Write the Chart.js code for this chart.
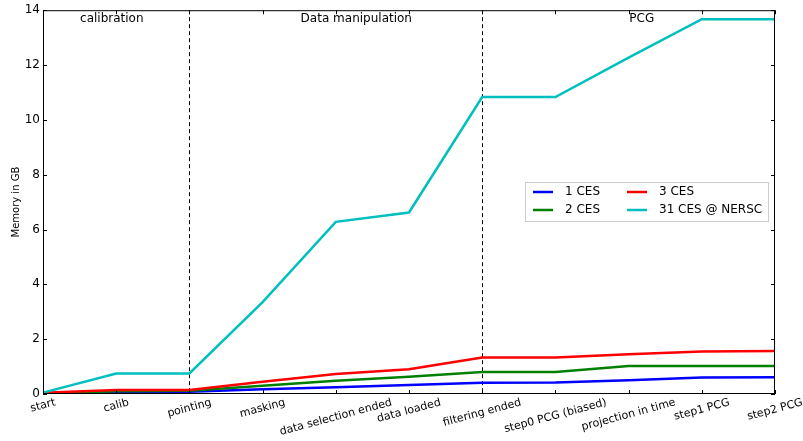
<!DOCTYPE html>
<html>
<head>
<meta charset="utf-8">
<script src="https://cdn.jsdelivr.net/npm/chart.js@4/dist/chart.umd.min.js"></script>
<style>
  html, body { margin: 0; padding: 0; background: #fff; }
  #wrap { width: 803px; height: 441px; }
</style>
</head>
<body>
<div id="wrap"><canvas id="main-chart" width="803" height="441"></canvas></div>
<script>
// steps of the run
const steps = ['start', 'calib', 'pointing', 'masking', 'data selection ended', 'data loaded',
    'filtering ended', 'step0 PCG (biased)', 'projection in time', 'step1 PCG', 'step2 PCG'];

// memory in GB
const ces1 = [0.0, 0.08, 0.08, 0.17, 0.25, 0.33, 0.41, 0.42, 0.5, 0.6, 0.61];
const ces2 = [0.02, 0.1, 0.12, 0.3, 0.48, 0.63, 0.8, 0.8, 1.02, 1.02, 1.02];
const ces3 = [0.05, 0.15, 0.15, 0.45, 0.73, 0.9, 1.33, 1.33, 1.45, 1.55, 1.57];
const ces31 = [0.05, 0.75, 0.75, 3.35, 6.28, 6.62, 10.83, 10.83, 12.27, 13.67, 13.67];

const seriesNames = ['1 CES', '2 CES', '3 CES', '31 CES @ NERSC'];
const seriesColors = ['#0000ff', '#008000', '#ff0000', '#00bfbf'];

// phases: name + where it sits along the step axis
const phases = ['calibration', 'Data manipulation', 'PCG'];
const phasePos = [0.94, 4.28, 8.18];
const phaseBounds = [2, 6]; // dashed separators (index in steps)

const yTicks = [0, 2, 4, 6, 8, 10, 12, 14];
const FONT = 'DejaVu Sans';

let ctx = document.getElementById('main-chart');

let decorations = {
    id: 'decorations',
    beforeDatasetsDraw(chart) {
        let c = chart.ctx, a = chart.chartArea, x = chart.scales.x;
        c.save();
        c.strokeStyle = '#000';
        c.lineWidth = 1;
        c.setLineDash([4, 3]);
        phaseBounds.forEach(function (i) {
            let px = Math.round(x.getPixelForValue(i)) + 0.5;
            c.beginPath();
            c.moveTo(px, a.top);
            c.lineTo(px, a.bottom);
            c.stroke();
        });
        c.restore();
    },
    afterDraw(chart) {
        let c = chart.ctx, a = chart.chartArea, x = chart.scales.x, y = chart.scales.y;
        c.save();

        // frame
        c.strokeStyle = '#000';
        c.lineWidth = 1;
        c.strokeRect(a.left + 0.5, a.top + 0.5, a.right - a.left - 1, a.bottom - a.top - 1);

        // inward ticks
        c.beginPath();
        steps.forEach(function (s, i) {
            let px = Math.round(x.getPixelForValue(i)) + 0.5;
            c.moveTo(px, a.bottom); c.lineTo(px, a.bottom - 4);
            c.moveTo(px, a.top); c.lineTo(px, a.top + 4);
        });
        yTicks.forEach(function (v) {
            let py = Math.round(y.getPixelForValue(v)) + 0.5;
            c.moveTo(a.left, py); c.lineTo(a.left + 4, py);
            c.moveTo(a.right, py); c.lineTo(a.right - 4, py);
        });
        c.stroke();

        // rotated step labels, centred under each tick
        c.fillStyle = '#000';
        c.font = '11px "' + FONT + '"';
        c.textAlign = 'center';
        c.textBaseline = 'middle';
        let rot = 15 * Math.PI / 180;
        steps.forEach(function (s, i) {
            let w = c.measureText(s).width, h = 11;
            let bh = w * Math.sin(rot) + h * Math.cos(rot);
            let px = x.getPixelForValue(i);
            c.save();
            c.translate(px, a.bottom + 3 + bh / 2);
            c.rotate(-rot);
            c.fillText(s, 0, 0);
            c.restore();
        });

        // phase names
        c.font = '12px "' + FONT + '"';
        c.textBaseline = 'top';
        phases.forEach(function (p, i) {
            c.fillText(p, x.getPixelForValue(phasePos[i]), a.top + 3);
        });

        // legend box
        let lx = 525, ly = 182, lw = 243, lh = 39;
        c.fillStyle = '#fff';
        c.fillRect(lx, ly, lw, lh);
        c.strokeStyle = '#cccccc';
        c.strokeRect(lx + 0.5, ly + 0.5, lw, lh);
        c.textAlign = 'left';
        c.textBaseline = 'middle';
        c.lineWidth = 2.5;
        seriesNames.forEach(function (n, i) {
            let col = Math.floor(i / 2), row = i % 2;
            let sx = col === 0 ? 533 : 627;
            let sy = row === 0 ? 192 : 210;
            c.strokeStyle = seriesColors[i];
            c.beginPath();
            c.moveTo(sx, sy); c.lineTo(sx + 20, sy);
            c.stroke();
            c.fillStyle = '#000';
            c.fillText(n, sx + 32, sy);
        });

        c.restore();
    }
};

let datasets = [ces1, ces2, ces3, ces31].map(function (vals, i) {
    return {
        label: seriesNames[i],
        data: vals,
        borderColor: seriesColors[i],
        backgroundColor: seriesColors[i],
        borderWidth: 2.5,
        pointRadius: 0,
        tension: 0,
        fill: false,
        order: 4 - i
    };
});

let myChart = new Chart(ctx, {
    type: 'line',
    data: { labels: steps, datasets: datasets },
    options: {
        responsive: false,
        animation: false,
        maintainAspectRatio: false,
        layout: { padding: { top: 9, right: 28, left: 0, bottom: 0 } },
        plugins: { legend: { display: false }, tooltip: { enabled: false } },
        scales: {
            x: {
                type: 'category',
                offset: false,
                grid: { display: false, drawTicks: false },
                border: { display: false },
                ticks: { display: false },
                afterFit(scale) { scale.height = 47; }
            },
            y: {
                min: 0,
                max: 14,
                grid: { display: false, drawTicks: false },
                border: { display: false },
                ticks: {
                    stepSize: 2,
                    padding: 3,
                    color: '#000',
                    font: { family: FONT, size: 12 }
                },
                title: {
                    display: true,
                    text: 'Memory in GB',
                    color: '#000',
                    font: { family: FONT, size: 10 },
                    padding: { top: 10, bottom: 0 }
                },
                afterFit(scale) { scale.width = 43; }
            }
        }
    },
    plugins: [decorations]
});
</script>
</body>
</html>
